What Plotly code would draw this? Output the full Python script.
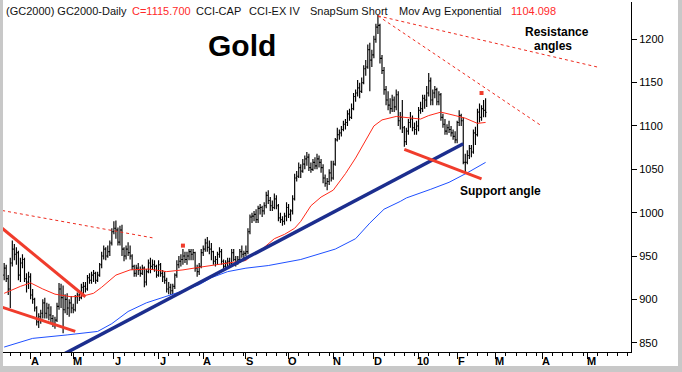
import pandas as pd
import plotly.graph_objects as go

# ---------------- data ----------------
holidays = ["2009-04-10", "2009-05-25", "2009-07-03", "2009-09-07", "2009-11-26",
            "2009-12-25", "2010-01-01", "2010-01-18", "2010-02-15"]
first_bar, last_bar = "2009-03-13", "2010-02-22"

opens = [
    928, 936, 924, 912, 942, 958, 952, 954, 928, 942, 946, 924, 920,  # Mar
    926, 905, 900, 890, 874, 880, 884, 896, 884, 890, 882, 878, 872, 876, 892, 912, 902, 888, 900, 890, 896,  # Apr
    890, 888, 903, 905, 902, 914, 915, 912, 925, 922, 928, 930, 922, 928, 940, 950, 958, 950, 955, 965,  # May
    978, 982, 980, 966, 980, 958, 950, 958, 954, 950, 938, 930, 936, 934, 930, 936, 920, 932, 942, 938, 940, 938,  # Jun
    928, 940, 930, 926, 922, 912, 914, 910, 915, 928, 940, 944, 946, 950, 946, 950, 955, 952, 954, 936, 932, 938,  # Jul
    954, 958, 965, 960, 958, 955, 944, 946, 952, 955, 944, 938, 942, 944, 942, 954, 946, 944, 946, 955, 952,  # Aug
    953, 955, 978, 995, 996, 998, 992, 1005, 1006, 1002, 1008, 1020, 1014, 1008, 1006, 1016, 1008, 994, 992, 990, 996,  # Sep
    1006, 998, 1002, 1016, 1040, 1042, 1052, 1048, 1056, 1062, 1064, 1052, 1050, 1058, 1054, 1062, 1058, 1052, 1040, 1034, 1036, 1046,  # Oct
    1040, 1056, 1084, 1090, 1092, 1096, 1102, 1104, 1114, 1110, 1120, 1134, 1138, 1144, 1140, 1150, 1166, 1168, 1188, 1176,  # Nov
    1182, 1200, 1214, 1216, 1178, 1164, 1142, 1130, 1124, 1120, 1130, 1122, 1136, 1106, 1110, 1098, 1082, 1094, 1104, 1108, 1098, 1096,  # Dec
    1100, 1118, 1120, 1132, 1130, 1138, 1152, 1130, 1138, 1142, 1128, 1136, 1110, 1102, 1094, 1098, 1096, 1092, 1088,  # Jan
    1084, 1104, 1112, 1106, 1058, 1058, 1066, 1074, 1070, 1092, 1090, 1116, 1110, 1120, 1118,  # Feb
]
highs = [
    942, 940, 928, 948, 968, 964, 960, 956, 948, 952, 948, 930, 932,
    930, 912, 902, 892, 884, 888, 900, 902, 896, 895, 892, 882, 880, 896, 919, 918, 916, 906, 907, 900, 904,
    895, 905, 908, 910, 918, 920, 920, 928, 930, 932, 934, 932, 932, 942, 955, 962, 960, 962, 968, 982,
    990, 991, 983, 985, 986, 960, 962, 966, 962, 952, 940, 940, 942, 938, 940, 938, 935, 946, 948, 946, 945, 940,
    945, 942, 934, 932, 925, 920, 918, 918, 930, 945, 950, 952, 958, 955, 955, 958, 958, 958, 955, 940, 942, 958,
    962, 970, 972, 968, 965, 956, 950, 955, 960, 958, 946, 945, 948, 948, 958, 958, 950, 950, 958, 962, 956,
    962, 982, 998, 1000, 1002, 1004, 1008, 1010, 1008, 1012, 1024, 1026, 1018, 1014, 1022, 1020, 1010, 1000, 996, 1000, 1012,
    1010, 1004, 1020, 1045, 1048, 1058, 1056, 1062, 1066, 1070, 1068, 1058, 1062, 1064, 1068, 1066, 1062, 1056, 1044, 1040, 1050, 1060,
    1060, 1086, 1098, 1096, 1100, 1106, 1108, 1118, 1120, 1126, 1138, 1142, 1153, 1150, 1156, 1170, 1176, 1194, 1196, 1188,
    1204, 1218, 1228, 1218, 1182, 1168, 1146, 1140, 1132, 1136, 1134, 1142, 1140, 1116, 1130, 1100, 1098, 1108, 1116, 1112, 1104, 1106,
    1122, 1128, 1136, 1136, 1146, 1161, 1156, 1142, 1146, 1144, 1140, 1138, 1114, 1108, 1102, 1106, 1100, 1096, 1094,
    1106, 1118, 1114, 1110, 1068, 1072, 1078, 1078, 1096, 1099, 1120, 1126, 1124, 1130, 1132,
]
lows = [
    922, 920, 905, 890, 938, 945, 940, 922, 920, 936, 920, 908, 912,
    900, 895, 886, 870, 867, 872, 878, 878, 878, 876, 874, 868, 866, 874, 888, 890, 861, 884, 882, 880, 884,
    884, 886, 895, 898, 900, 905, 908, 910, 918, 918, 920, 918, 920, 926, 936, 946, 945, 948, 950, 962,
    975, 970, 962, 962, 950, 944, 946, 950, 946, 934, 926, 926, 928, 926, 928, 914, 916, 930, 930, 934, 932, 925,
    926, 926, 920, 918, 908, 906, 905, 906, 912, 925, 936, 938, 940, 942, 940, 945, 945, 945, 932, 926, 928, 936,
    950, 955, 955, 952, 945, 940, 938, 940, 948, 940, 934, 935, 936, 938, 940, 944, 938, 940, 942, 948, 944,
    950, 952, 975, 988, 990, 988, 988, 998, 995, 998, 1005, 1010, 1002, 1002, 1004, 1004, 990, 988, 985, 986, 990,
    994, 990, 998, 1014, 1036, 1040, 1040, 1046, 1050, 1054, 1048, 1046, 1048, 1050, 1050, 1052, 1046, 1034, 1030, 1026, 1032, 1036,
    1038, 1054, 1082, 1084, 1088, 1094, 1096, 1100, 1106, 1108, 1118, 1128, 1134, 1132, 1138, 1148, 1158, 1166, 1140, 1168,
    1178, 1196, 1206, 1172, 1160, 1136, 1124, 1118, 1114, 1116, 1116, 1118, 1100, 1096, 1092, 1076, 1078, 1090, 1098, 1094, 1090, 1090,
    1094, 1114, 1116, 1120, 1122, 1134, 1124, 1124, 1132, 1124, 1124, 1106, 1098, 1090, 1090, 1092, 1088, 1084, 1080,
    1080, 1100, 1100, 1056, 1046, 1056, 1062, 1064, 1068, 1078, 1088, 1104, 1106, 1110, 1110,
]
closes = [
    936, 924, 912, 942, 958, 952, 954, 928, 942, 946, 924, 920, 926,
    905, 900, 890, 874, 880, 884, 896, 884, 890, 882, 878, 872, 876, 892, 912, 902, 888, 900, 890, 896, 890,
    888, 903, 905, 902, 914, 915, 912, 925, 922, 928, 930, 922, 928, 940, 950, 958, 950, 955, 965, 978,
    982, 980, 966, 980, 958, 950, 958, 954, 950, 938, 930, 936, 934, 930, 936, 920, 932, 942, 938, 940, 938, 928,
    940, 930, 926, 922, 912, 914, 910, 915, 928, 940, 944, 946, 950, 946, 950, 955, 952, 954, 936, 932, 938, 954,
    958, 965, 960, 958, 955, 944, 946, 952, 955, 944, 938, 942, 944, 942, 954, 946, 944, 946, 955, 952, 953,
    955, 978, 995, 996, 998, 992, 1005, 1006, 1002, 1008, 1020, 1014, 1008, 1006, 1016, 1008, 994, 992, 990, 996, 1006,
    998, 1002, 1016, 1040, 1042, 1052, 1048, 1056, 1062, 1064, 1052, 1050, 1058, 1054, 1062, 1058, 1052, 1040, 1034, 1036, 1046, 1040,
    1056, 1084, 1090, 1092, 1096, 1102, 1104, 1114, 1110, 1120, 1134, 1138, 1144, 1140, 1150, 1166, 1168, 1188, 1176, 1182,
    1200, 1214, 1216, 1178, 1164, 1142, 1130, 1124, 1120, 1130, 1122, 1136, 1106, 1110, 1098, 1082, 1094, 1104, 1108, 1098, 1096, 1100,
    1118, 1120, 1132, 1130, 1138, 1152, 1130, 1138, 1142, 1128, 1136, 1110, 1102, 1094, 1098, 1096, 1092, 1088, 1084,
    1104, 1112, 1106, 1058, 1058, 1066, 1074, 1070, 1092, 1090, 1116, 1110, 1120, 1118, 1115.7,
]

# exponential moving averages
ema_fast_dates = ["2009-03-13", "2009-03-25", "2009-04-01", "2009-04-09", "2009-04-20", "2009-04-30",
                  "2009-05-08", "2009-05-15", "2009-05-21", "2009-05-28", "2009-06-02", "2009-06-11",
                  "2009-06-24", "2009-07-08", "2009-07-20", "2009-07-30", "2009-08-19", "2009-09-01",
                  "2009-09-03", "2009-09-15", "2009-09-22", "2009-09-29", "2009-10-06", "2009-10-09",
                  "2009-10-16", "2009-10-23", "2009-11-02", "2009-11-10", "2009-11-17", "2009-11-24",
                  "2009-12-01", "2009-12-07", "2009-12-16", "2009-12-29", "2010-01-05", "2010-01-11",
                  "2010-01-20", "2010-01-29", "2010-02-05", "2010-02-16", "2010-02-22"]
ema_fast = [907, 915, 919, 912, 906, 903, 904, 907, 914, 922, 928, 934, 935, 932, 934, 937, 942, 945,
            949, 960, 970, 975, 982, 990, 1008, 1018, 1026, 1045, 1063, 1084, 1100, 1107, 1111, 1109,
            1108, 1112, 1116, 1112, 1109, 1103, 1104.098]
ema_slow_dates = ["2009-03-13", "2009-04-02", "2009-04-28", "2009-05-19", "2009-05-29", "2009-06-10",
                  "2009-06-23", "2009-07-06", "2009-07-17", "2009-07-30", "2009-08-07", "2009-08-19",
                  "2009-09-01", "2009-09-17", "2009-10-01", "2009-10-09", "2009-11-03", "2009-11-17",
                  "2009-11-27", "2009-12-08", "2009-12-18", "2009-12-23", "2010-01-12", "2010-01-26",
                  "2010-02-08", "2010-02-22"]
ema_slow = [845, 855, 859, 863, 872, 886, 896, 902, 909, 917, 925, 932, 936, 939, 943, 946, 958, 970,
            988, 1004, 1013, 1017, 1027, 1035, 1046, 1058]

# drawn trend lines (date pairs, price pairs)
res_left_dates, res_left = ["2009-03-12", "2009-05-11"], [982, 903]
sup_left_dates, sup_left = ["2009-03-12", "2009-05-04"], [891, 863]
sup_right_dates, sup_right = ["2009-12-22", "2010-02-18"], [1073, 1039]
uptrend_dates, uptrend = ["2009-04-20", "2010-02-04"], [831.5, 1079.5]
dash_left_dates, dash_left = ["2009-03-12", "2009-06-26"], [1002.5, 971]
dash_res1_dates, dash_res1 = ["2009-12-03", "2010-05-10"], [1227, 1168]
dash_res2_dates, dash_res2 = ["2009-12-03", "2010-03-31"], [1227, 1101]

flag_dates, flag_prices = ["2009-07-20", "2010-02-18"], [962, 1138]

month_ticks = ["2009-04-01", "2009-05-01", "2009-06-01", "2009-07-01", "2009-08-03", "2009-09-01",
               "2009-10-01", "2009-11-02", "2009-12-01", "2010-01-04", "2010-02-01", "2010-03-01",
               "2010-04-01", "2010-05-03"]
month_labels = ["A", "M", "J", "J", "A", "S", "O", "N", "D", "10", "F", "M", "A", "M"]
y_ticks = [850, 900, 950, 1000, 1050, 1100, 1150, 1200]

# ---------------- calendar ----------------
cal = [d for d in pd.bdate_range("2009-03-02", "2010-06-04") if d.strftime("%Y-%m-%d") not in holidays]
cal_str = [d.strftime("%Y-%m-%d") for d in cal]
bar_dates = [s for s in cal_str if first_bar <= s <= last_bar]
assert len(bar_dates) == len(opens) == len(highs) == len(lows) == len(closes), (
    len(bar_dates), len(opens), len(highs), len(lows), len(closes))

midx = [cal_str.index(t) for t in month_ticks]
minor_ticks = []
for k, m in enumerate(midx):
    nxt = midx[k + 1] if k + 1 < len(midx) else len(cal)
    for s in (5, 10, 15, 20):
        if m + s < nxt:
            minor_ticks.append(cal_str[m + s])
for s in (5, 10):
    minor_ticks.append(cal_str[midx[0] - s])

# ---------------- figure ----------------
W, H = 682, 372
L, R, T, B = 3, 631, 2, 352   # plot area in pixels


def px(x):
    return (x - L) / (R - L)


def py(y):
    return (B - y) / (B - T)


FONT = "Liberation Sans, Arial, sans-serif"
RED = "#f03c2c"
THIN_RED = "#ff2a1a"

fig = go.Figure()
fig.add_trace(go.Ohlc(
    x=bar_dates, open=opens, high=highs, low=lows, close=closes,
    increasing=dict(line=dict(color="black", width=1.15)),
    decreasing=dict(line=dict(color="black", width=1.15)),
    tickwidth=0.5, hoverinfo="skip", showlegend=False))

fig.add_trace(go.Scatter(x=ema_slow_dates, y=ema_slow, mode="lines",
                         line=dict(color="#1f50ff", width=1), hoverinfo="skip", showlegend=False))
fig.add_trace(go.Scatter(x=ema_fast_dates, y=ema_fast, mode="lines",
                         line=dict(color=THIN_RED, width=1), hoverinfo="skip", showlegend=False))

for xs, ys in [(dash_left_dates, dash_left), (dash_res1_dates, dash_res1), (dash_res2_dates, dash_res2)]:
    fig.add_trace(go.Scatter(x=xs, y=ys, mode="lines",
                             line=dict(color="#ee2a1e", width=1, dash="3px,3px"),
                             hoverinfo="skip", showlegend=False))

fig.add_trace(go.Scatter(x=uptrend_dates, y=uptrend, mode="lines",
                         line=dict(color="#1c2e8e", width=3.5), hoverinfo="skip", showlegend=False))
for xs, ys in [(res_left_dates, res_left), (sup_left_dates, sup_left), (sup_right_dates, sup_right)]:
    fig.add_trace(go.Scatter(x=xs, y=ys, mode="lines",
                             line=dict(color=RED, width=3), hoverinfo="skip", showlegend=False))

fig.add_trace(go.Scatter(x=flag_dates, y=flag_prices, mode="markers",
                         marker=dict(symbol="square", size=4, color=RED),
                         hoverinfo="skip", showlegend=False))

annotations = []
# header
header = [("(GC2000) GC2000-Daily", 4, "#111111"), ("C=1115.700", 129.5, "#ff2a2a"),
          ("CCI-CAP", 193.5, "#111111"), ("CCI-EX IV", 247, "#111111"),
          ("SnapSum Short", 308, "#111111"), ("Mov Avg Exponential", 396.5, "#111111"),
          ("1104.098", 509, "#ff2a2a")]
for text, x0, col in header:
    annotations.append(dict(text=text, x=px(x0), y=py(11), xref="paper", yref="paper",
                            xanchor="left", yanchor="middle", showarrow=False,
                            font=dict(family=FONT, size=11, color=col)))
annotations.append(dict(text="<b>Gold</b>", x=px(242), y=py(45), xref="paper", yref="paper",
                        xanchor="center", yanchor="middle", showarrow=False,
                        font=dict(family=FONT, size=30, color="black")))
annotations.append(dict(text="<b>Resistance</b>", x=px(557), y=py(32), xref="paper", yref="paper",
                        xanchor="center", yanchor="middle", showarrow=False, borderpad=0,
                        font=dict(family=FONT, size=12, color="black")))
annotations.append(dict(text="<b>angles</b>", x=px(533), y=py(46.5), xref="paper", yref="paper",
                        xanchor="left", yanchor="middle", showarrow=False, borderpad=0,
                        font=dict(family=FONT, size=12, color="black")))
annotations.append(dict(text="<b>Support angle</b>", x=px(458), y=py(191), xref="paper", yref="paper",
                        xanchor="left", yanchor="middle", showarrow=False,
                        font=dict(family=FONT, size=12, color="black")))
# month labels
for d, lab in zip(month_ticks, month_labels):
    annotations.append(dict(text="<b>%s</b>" % lab, x=d, y=0, xref="x", yref="paper",
                            xanchor="center", yanchor="middle", xshift=4, yshift=-9,
                            showarrow=False, font=dict(family=FONT, size=11, color="black")))

shapes = [dict(type="rect", xref="paper", yref="paper", x0=px(L), x1=px(678), y0=py(366), y1=py(0),
               fillcolor="white", line=dict(width=0), layer="below")]

fig.update_layout(
    width=W, height=H,
    margin=dict(l=L, r=W - R, t=T, b=H - B, pad=0),
    paper_bgcolor="#c8c8c8", plot_bgcolor="white",
    showlegend=False, hovermode=False,
    annotations=annotations, shapes=shapes,
    xaxis=dict(
        type="date", range=["2009-03-12 10:00", "2010-06-01 14:00"],
        rangebreaks=[dict(bounds=["sat", "mon"]), dict(values=holidays)],
        rangeslider=dict(visible=False),
        showline=True, linecolor="black", linewidth=1, mirror=False,
        showgrid=False, zeroline=False,
        tickmode="array", tickvals=month_ticks, ticks="outside", ticklen=6,
        tickcolor="black", tickwidth=1, showticklabels=False,
        minor=dict(tickmode="array", tickvals=minor_ticks, ticks="outside", ticklen=3,
                   tickcolor="black", tickwidth=1, showgrid=False),
    ),
    yaxis=dict(
        side="right", range=[839.3, 1243], tickmode="array", tickvals=y_ticks,
        ticks="outside", ticklen=5, tickcolor="black", tickwidth=1,
        showline=True, linecolor="black", linewidth=1, showgrid=False, zeroline=False,
        tickfont=dict(family=FONT, size=11, color="black"),
    ),
)

fig.write_html("out.html", config={"displayModeBar": False},
               post_script="document.body.style.margin='0';document.body.style.padding='0';")
